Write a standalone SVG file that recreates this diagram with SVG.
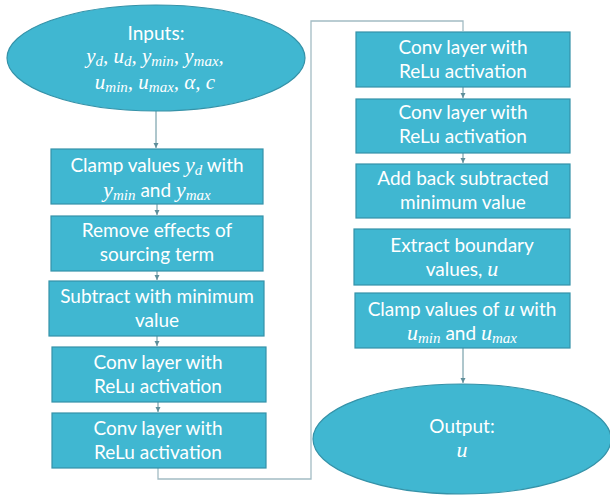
<svg xmlns="http://www.w3.org/2000/svg" width="610" height="497" viewBox="0 0 610 497">
  <style>
    .box { fill: #40b7d1; stroke: #3592a8; stroke-width: 1.2; }
    .t { font-family: Lato, "Open Sans", sans-serif; font-size: 19px; fill: #ffffff; text-anchor: middle; }
    .m { font-family: "Liberation Serif", "DejaVu Serif", serif; font-style: italic; font-size: 22px; }
    .s { font-size: 15px; }
    .mi { font-size: 21px; }
    .link { fill: none; stroke: #5f8e9a; stroke-width: 1; }
    .loop { fill: none; stroke: #a3bcc4; stroke-width: 1.3; }
  </style>
  <defs>
    <marker id="arr" markerWidth="6" markerHeight="6" refX="5" refY="3" orient="auto" markerUnits="userSpaceOnUse">
      <path d="M0,0.5 L5,3 L0,5.5 Z" fill="#5f8e9a"/>
    </marker>
  </defs>

  <g id="connectors">
    <line class="link" x1="156" y1="111" x2="156" y2="148" marker-end="url(#arr)"/>
    <line class="link" x1="157" y1="204" x2="157" y2="215" marker-end="url(#arr)"/>
    <line class="link" x1="157" y1="271" x2="157" y2="280" marker-end="url(#arr)"/>
    <line class="link" x1="157" y1="336" x2="157" y2="346" marker-end="url(#arr)"/>
    <line class="link" x1="158" y1="402" x2="158" y2="412" marker-end="url(#arr)"/>
    <polyline class="loop" points="158,468 158,479 311,479 311,21 463,21 463,31"/>
    <line class="link" x1="463" y1="87" x2="463" y2="98" marker-end="url(#arr)"/>
    <line class="link" x1="463" y1="153" x2="463" y2="163" marker-end="url(#arr)"/>
    <line class="link" x1="463" y1="348" x2="463" y2="383" marker-end="url(#arr)"/>
  </g>

  <g id="inputs">
    <ellipse class="box" cx="156" cy="58" rx="149" ry="53"/>
    <text class="t" x="156" y="40">Inputs:</text>
    <text class="t m mi" x="155" y="63">y<tspan class="s" dy="3">d</tspan><tspan dy="-3">, u</tspan><tspan class="s" dy="3">d</tspan><tspan dy="-3">, y</tspan><tspan class="s" dy="3">min</tspan><tspan dy="-3">, y</tspan><tspan class="s" dy="3">max</tspan><tspan dy="-3">,</tspan></text>
    <text class="t m mi" x="155" y="89">u<tspan class="s" dy="3">min</tspan><tspan dy="-3">, u</tspan><tspan class="s" dy="3">max</tspan><tspan dy="-3">, α, c</tspan></text>
  </g>

  <g id="clamp-y">
    <rect class="box" x="51" y="149" width="212" height="55"/>
    <text class="t" x="157" y="172">Clamp values <tspan class="m">y</tspan><tspan class="m s" dy="3">d</tspan><tspan dy="-3"> with</tspan></text>
    <text class="t" x="157" y="197"><tspan class="m">y</tspan><tspan class="m s" dy="3">min</tspan><tspan dy="-3"> and </tspan><tspan class="m">y</tspan><tspan class="m s" dy="3">max</tspan></text>
  </g>

  <g id="remove-source">
    <rect class="box" x="51" y="216" width="212" height="55"/>
    <text class="t" x="157" y="237">Remove effects of</text>
    <text class="t" x="157" y="261">sourcing term</text>
  </g>

  <g id="subtract-min">
    <rect class="box" x="49" y="281" width="215" height="55"/>
    <text class="t" x="157" y="303">Subtract with minimum</text>
    <text class="t" x="157" y="327">value</text>
  </g>

  <g id="conv-1">
    <rect class="box" x="52" y="347" width="214" height="55"/>
    <text class="t" x="158" y="369">Conv layer with</text>
    <text class="t" x="158" y="393">ReLu activation</text>
  </g>

  <g id="conv-2">
    <rect class="box" x="52" y="413" width="214" height="55"/>
    <text class="t" x="158" y="435">Conv layer with</text>
    <text class="t" x="158" y="459">ReLu activation</text>
  </g>

  <g id="conv-3">
    <rect class="box" x="356" y="32" width="214" height="55"/>
    <text class="t" x="463" y="54">Conv layer with</text>
    <text class="t" x="463" y="78">ReLu activation</text>
  </g>

  <g id="conv-4">
    <rect class="box" x="356" y="99" width="214" height="54"/>
    <text class="t" x="463" y="119">Conv layer with</text>
    <text class="t" x="463" y="143">ReLu activation</text>
  </g>

  <g id="add-min">
    <rect class="box" x="356" y="164" width="214" height="54"/>
    <text class="t" x="463" y="185">Add back subtracted</text>
    <text class="t" x="463" y="209">minimum value</text>
  </g>

  <g id="extract-boundary">
    <rect class="box" x="354" y="229" width="216" height="56"/>
    <text class="t" x="462" y="252">Extract boundary</text>
    <text class="t" x="462" y="276">values, <tspan class="m">u</tspan></text>
  </g>

  <g id="clamp-u">
    <rect class="box" x="355" y="293" width="215" height="55"/>
    <text class="t" x="462" y="316">Clamp values of <tspan class="m">u</tspan> with</text>
    <text class="t" x="462" y="340"><tspan class="m">u</tspan><tspan class="m s" dy="3">min</tspan><tspan dy="-3"> and </tspan><tspan class="m">u</tspan><tspan class="m s" dy="3">max</tspan></text>
  </g>

  <g id="output">
    <ellipse class="box" cx="462" cy="439" rx="149" ry="55"/>
    <text class="t" x="462" y="433">Output:</text>
    <text class="t m" x="462" y="457">u</text>
  </g>
</svg>
